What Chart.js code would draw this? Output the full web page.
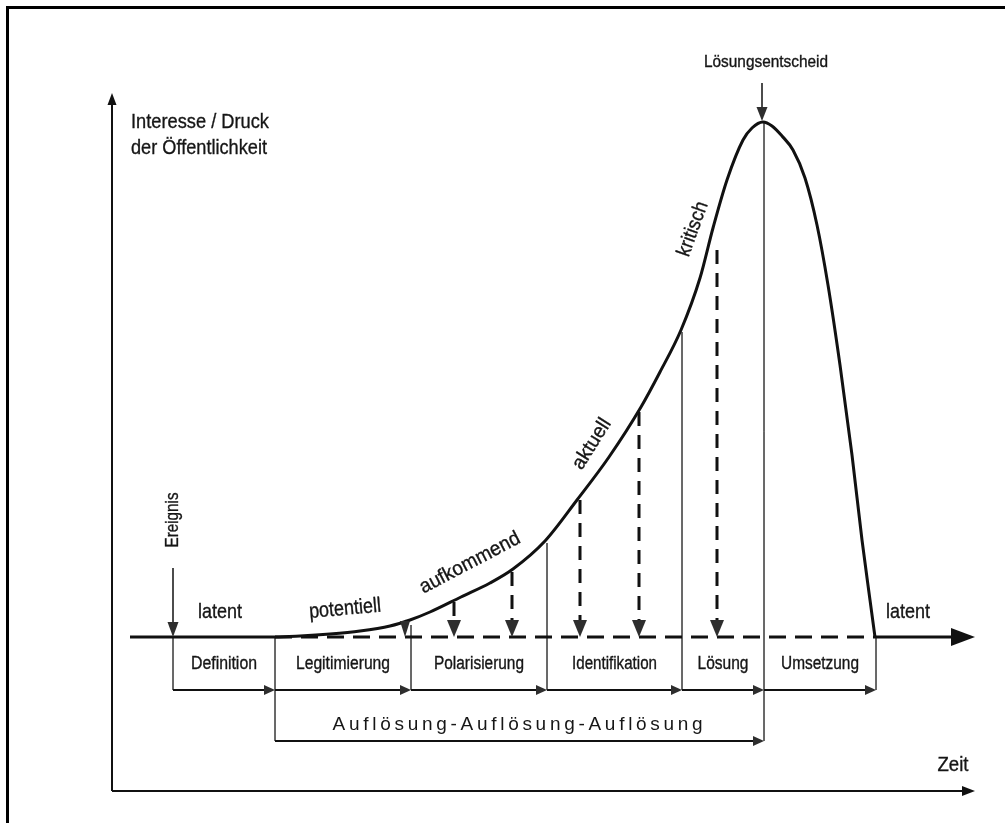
<!DOCTYPE html>
<html>
<head>
<meta charset="utf-8">
<script src="https://cdn.jsdelivr.net/npm/chart.js@4"></script>
<style>
  html, body { margin: 0; padding: 0; background: #fff; overflow: hidden; }
  #wrap { width: 1005px; height: 823px; position: relative; }
  #frame { position: absolute; left: 6px; top: 6px; width: 1020px; height: 840px;
           border-left: 3px solid #000; border-top: 3px solid #000; pointer-events: none; }
</style>
</head>
<body>
<div id="wrap"><canvas id="issueChart"></canvas><div id="frame"></div></div>
<script>
// t = time since the Ereignis, i = Interesse / Druck above the latent baseline
const curveT = [-43, 102, 127, 157, 187, 217, 237, 257, 288, 317, 340, 372, 404, 436, 468, 487, 508, 527, 540, 554, 570, 579, 590, 599, 609, 620, 632, 644, 655, 667, 679, 689, 697, 702];
const curveI = [0, 0, 1, 3, 6, 11, 17, 25, 40, 54, 68, 96, 137, 180, 230, 265, 307, 359, 409, 457, 497, 509, 515, 511, 501, 487, 459, 412, 352, 272, 182, 97, 37, 0];

// phases along the time axis and where their boundary lines start
const phases = ['Definition', 'Legitimierung', 'Polarisierung', 'Identifikation', 'Lösung', 'Umsetzung'];
const phaseBounds = [0, 102, 238, 374, 509, 591, 703];
const boundTops = [0, 0, 12, 94, 305, 515, 0];

// dashed drop arrows from the curve to the baseline
const dropT = [232, 281, 339, 407, 466, 544];
const dropTop = [16, 35, 65, 137, 225, 387];

// issue states written along the curve
const states = ['latent', 'potentiell', 'aufkommend', 'aktuell', 'kritisch', 'latent'];

const yTitle = ['Interesse / Druck', 'der Öffentlichkeit'];
const xTitle = 'Zeit';
const eventLabel = 'Ereignis';
const decisionLabel = 'Lösungsentscheid';
const spanLabel = 'Auflösung-Auflösung-Auflösung';

const INK = '#111';
const HEAD = '#2e2e2e';
const FONT = '"Liberation Sans", Arial, sans-serif';

const curvePoints = curveT.map((t, k) => ({ x: t, y: curveI[k] }));

const datasets = [
  {
    data: curvePoints,
    borderColor: INK,
    borderWidth: 3,
    pointRadius: 0,
    cubicInterpolationMode: 'monotone',
  },
  {
    data: [{ x: phaseBounds[1], y: 0 }, { x: phaseBounds[6], y: 0 }],
    borderColor: INK,
    borderWidth: 3,
    borderDash: [17, 9],
    pointRadius: 0,
  },
  {
    data: [{ x: phaseBounds[6], y: 0 }, { x: 790, y: 0 }],
    borderColor: INK,
    borderWidth: 3,
    pointRadius: 0,
  },
];

dropT.forEach((t, k) => {
  datasets.push({
    data: [{ x: t, y: dropTop[k] }, { x: t, y: Math.min(dropTop[k], 16) }],
    borderColor: INK,
    borderWidth: 3,
    borderDash: [14, 9],
    pointRadius: 0,
  });
});

phaseBounds.forEach((t, k) => {
  const bottom = (k === 1 || k === 5) ? -104 : -53;
  datasets.push({
    data: [{ x: t, y: boundTops[k] }, { x: t, y: bottom }],
    borderColor: '#555',
    borderWidth: 1,
    pointRadius: 0,
  });
});

function line(ctx, x1, y1, x2, y2, w, color) {
  ctx.save();
  ctx.strokeStyle = color;
  ctx.lineWidth = w;
  ctx.beginPath();
  ctx.moveTo(x1, y1);
  ctx.lineTo(x2, y2);
  ctx.stroke();
  ctx.restore();
}

function head(ctx, tx, ty, dir, len, half, color) {
  ctx.save();
  ctx.fillStyle = color;
  ctx.beginPath();
  ctx.moveTo(tx, ty);
  if (dir === 'right') {
    ctx.lineTo(tx - len, ty - half);
    ctx.lineTo(tx - len, ty + half);
  } else if (dir === 'down') {
    ctx.lineTo(tx - half, ty - len);
    ctx.lineTo(tx + half, ty - len);
  } else {
    ctx.lineTo(tx - half, ty + len);
    ctx.lineTo(tx + half, ty + len);
  }
  ctx.closePath();
  ctx.fill();
  ctx.restore();
}

// text squeezed to the narrow face of the original, centred on (cx, cy)
function label(ctx, str, cx, cy, size, width, angle, align) {
  ctx.save();
  ctx.font = size + 'px ' + FONT;
  ctx.fillStyle = '#161616';
  ctx.strokeStyle = '#161616';
  ctx.lineWidth = 0.35;
  ctx.textBaseline = 'middle';
  ctx.textAlign = align || 'center';
  const natural = ctx.measureText(str).width;
  ctx.translate(cx, cy);
  ctx.rotate((angle || 0) * Math.PI / 180);
  ctx.scale(width / natural, 1);
  ctx.fillText(str, 0, 0);
  ctx.strokeText(str, 0, 0);
  ctx.restore();
}

const diagram = {
  id: 'diagram',
  afterDatasetsDraw(chart) {
    const { ctx, scales: { x, y } } = chart;
    const px = t => x.getPixelForValue(t);
    const py = v => y.getPixelForValue(v);

    // axes
    line(ctx, px(-61), py(-154), px(-61), py(538), 2, INK);
    head(ctx, px(-61), py(544), 'up', 12, 4.5, INK);
    line(ctx, px(-61), py(-154), px(796), py(-154), 2, INK);
    head(ctx, px(802), py(-154), 'right', 13, 5, INK);
    head(ctx, px(802), py(0), 'right', 24, 9, INK);

    // drop arrow heads
    dropT.forEach((t, k) => {
      const len = Math.min(dropTop[k], 17);
      head(ctx, px(t), py(0), 'down', len, len < 17 ? 5 : 7, HEAD);
    });

    // phase arrows and the Auflösung span
    for (let k = 0; k < phases.length; k++) {
      line(ctx, px(phaseBounds[k]), py(-53), px(phaseBounds[k + 1]) - 8, py(-53), 1.8, INK);
      head(ctx, px(phaseBounds[k + 1]), py(-53), 'right', 11, 5, HEAD);
    }
    line(ctx, px(phaseBounds[1]), py(-104), px(phaseBounds[5]) - 8, py(-104), 1.8, INK);
    head(ctx, px(phaseBounds[5]), py(-104), 'right', 11, 5, HEAD);

    // Ereignis and Lösungsentscheid markers
    line(ctx, px(0), py(69), px(0), py(12), 1.5, INK);
    head(ctx, px(0), py(0), 'down', 15, 5.5, HEAD);
    line(ctx, px(589), py(554), px(589), py(527), 1.5, INK);
    head(ctx, px(589), py(516), 'down', 14, 5.5, HEAD);

    // texts
    label(ctx, yTitle[0], px(-42), py(515), 21, 138, 0, 'left');
    label(ctx, yTitle[1], px(-42), py(489), 21, 136, 0, 'left');
    label(ctx, decisionLabel, px(593), py(574), 16, 124);
    label(ctx, eventLabel, px(0), py(117), 19, 55, -90);
    label(ctx, xTitle, px(780), py(-128), 20, 31);

    label(ctx, states[0], px(47), py(25), 21, 44);
    label(ctx, states[1], px(172), py(28), 21, 72, -5);
    label(ctx, states[2], px(297), py(74), 20, 111, -27.7);
    label(ctx, states[3], px(419), py(193), 20, 56, -58);
    label(ctx, states[4], px(520), py(408), 20, 57, -70);
    label(ctx, states[5], px(735), py(25), 21, 44);

    phases.forEach((name, k) => {
      const widths = [66, 94, 90, 85, 51, 78];
      label(ctx, name, (px(phaseBounds[k]) + px(phaseBounds[k + 1])) / 2, py(-27), 18, widths[k]);
    });

    ctx.save();
    ctx.font = '19px ' + FONT;
    const plain = ctx.measureText(spanLabel).width;
    ctx.letterSpacing = ((370 - plain) / (spanLabel.length - 1)).toFixed(2) + 'px';
    ctx.fillStyle = '#161616';
    ctx.textBaseline = 'middle';
    ctx.textAlign = 'center';
    ctx.fillText(spanLabel, (px(phaseBounds[1]) + px(phaseBounds[5])) / 2, py(-88));
    ctx.restore();
  },
};

new Chart(document.getElementById('issueChart'), {
  type: 'line',
  data: { datasets },
  options: {
    responsive: true,
    maintainAspectRatio: false,
    animation: false,
    layout: { padding: 0 },
    plugins: { legend: { display: false }, tooltip: { enabled: false } },
    scales: {
      x: { type: 'linear', min: -173, max: 832, display: false },
      y: { type: 'linear', min: -186, max: 637, display: false },
    },
  },
  plugins: [diagram],
});
</script>
</body>
</html>
